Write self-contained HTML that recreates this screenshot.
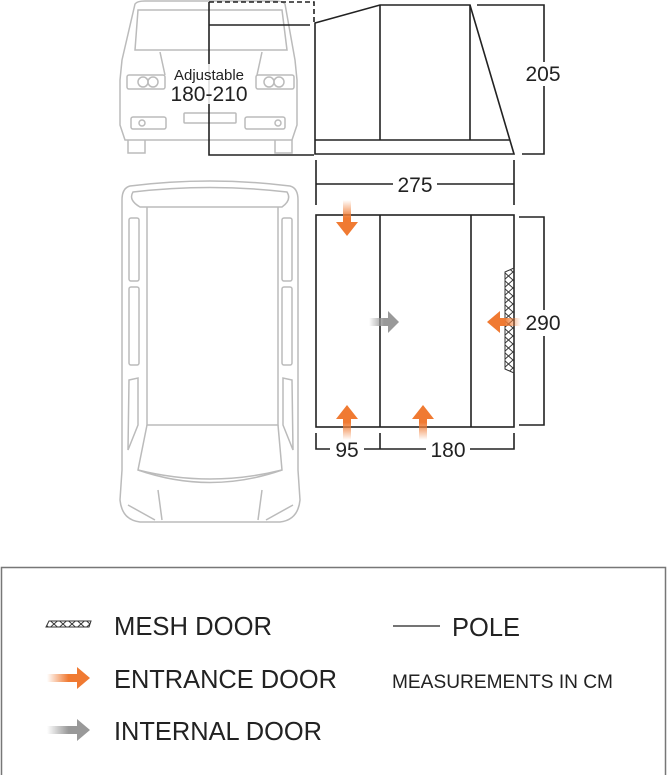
<!DOCTYPE html>
<html><head><meta charset="utf-8"><style>
html,body{margin:0;padding:0;background:#fff;}
svg{display:block;}
text{font-family:"Liberation Sans",sans-serif;fill:#222;}
</style></head><body>
<svg width="667" height="775" viewBox="0 0 667 775" xmlns="http://www.w3.org/2000/svg">
<defs>
<linearGradient id="od" x1="0" y1="0" x2="0" y2="1"><stop offset="0" stop-color="#f07a32" stop-opacity="0"/><stop offset="0.5" stop-color="#f07a32"/></linearGradient>
<linearGradient id="ou" x1="0" y1="1" x2="0" y2="0"><stop offset="0" stop-color="#f07a32" stop-opacity="0"/><stop offset="0.5" stop-color="#f07a32"/></linearGradient>
<linearGradient id="ol" x1="1" y1="0" x2="0" y2="0"><stop offset="0" stop-color="#f07a32" stop-opacity="0"/><stop offset="0.5" stop-color="#f07a32"/></linearGradient>
<linearGradient id="or" x1="0" y1="0" x2="1" y2="0"><stop offset="0" stop-color="#f07a32" stop-opacity="0"/><stop offset="0.5" stop-color="#f07a32"/></linearGradient>
<linearGradient id="gr" x1="0" y1="0" x2="1" y2="0"><stop offset="0" stop-color="#999" stop-opacity="0"/><stop offset="0.5" stop-color="#999"/></linearGradient>
<pattern id="mesh" width="9" height="8" patternUnits="userSpaceOnUse"><path d="M0 0L9 8M9 0L0 8" stroke="#333" stroke-width="1" fill="none"/></pattern>
</defs>

<!-- car front -->
<g fill="none" stroke="#bbb" stroke-width="1.5">
<path d="M135 4 Q137 1 145 1 L275 1 Q283 1 285 4 L295 60 L297 80 L297 125 L292 140 L125 140 L120 125 L120 80 L122 60 Z"/>
<path d="M138 10 L282 10 L287 50 L135 50 Z"/>
<path d="M160 52 L165 75 M262 52 L257 75"/>
<rect x="127" y="75" width="38" height="14" rx="2"/><circle cx="143" cy="82" r="5"/><circle cx="153" cy="82" r="5"/>
<rect x="256" y="75" width="38" height="14" rx="2"/><circle cx="269" cy="82" r="5"/><circle cx="279" cy="82" r="5"/>
<rect x="131" y="117" width="35" height="12" rx="2"/><circle cx="142" cy="123" r="3"/>
<rect x="245" y="117" width="40" height="12" rx="2"/><circle cx="278" cy="123" r="3"/>
<rect x="184" y="113" width="52" height="10" rx="1"/>
<path d="M128 140 L128 153 L145 153 L145 140 M275 140 L275 153 L292 153 L292 140"/>
</g>
<!-- car top -->
<g fill="none" stroke="#bbb" stroke-width="1.5">
<path d="M130 186 Q210 176 290 186 Q298 188 298 200 L298 470 L300 500 Q298 520 280 522 L140 522 Q122 520 120 500 L122 470 L122 200 Q122 188 130 186 Z"/>
<path d="M133 192 Q210 183 287 192 Q292 200 282 207 L140 207 Q128 200 133 192 Z"/>
<path d="M147 207 L147 425 L278 425 L278 207"/>
<path d="M147 425 L138 470 Q210 488 282 470 L278 425"/>
<path d="M138 470 Q210 495 282 470"/>
<rect x="129" y="218" width="10" height="63" rx="2"/><rect x="129" y="287" width="10" height="78" rx="2"/>
<path d="M129 380 L138 378 L138 425 L128 450 Z"/>
<rect x="282" y="218" width="10" height="63" rx="2"/><rect x="282" y="287" width="10" height="78" rx="2"/>
<path d="M292 380 L283 378 L283 425 L293 450 Z"/>
<path d="M158 490 L162 520 M262 490 L258 520 M128 505 L155 520 M293 505 L266 520"/>
</g>

<!-- side elevation -->
<g fill="none" stroke="#222" stroke-width="1.6">
<path d="M209 2 L314 2 L314 22" stroke-dasharray="5,3"/>
<path d="M209 2 L209 155 L314 155 M209 25 L310 25"/>
<path d="M315 23 L380 5 L470 5 L514 154 L315 154 Z"/>
<path d="M315 140 L510 140 M380 5 L380 140 M470 5 L470 140"/>
<path d="M477 5 L544 5 L544 154 L522 154"/>
<path d="M316 160 L316 205 M514 160 L514 205 M316 184 L514 184"/>
</g>
<rect x="172" y="64" width="78" height="40" fill="#fff" opacity="0.85"/>
<text x="209" y="80" font-size="15" text-anchor="middle">Adjustable</text>
<text x="209" y="101" font-size="21" text-anchor="middle">180-210</text>
<rect x="524" y="62" width="40" height="24" fill="#fff"/>
<text x="543" y="81" font-size="21" text-anchor="middle">205</text>
<rect x="393" y="173" width="44" height="24" fill="#fff"/>
<text x="415" y="192" font-size="21" text-anchor="middle">275</text>

<!-- floor plan -->
<g fill="none" stroke="#222" stroke-width="1.6">
<rect x="316" y="215" width="198" height="212"/>
<path d="M380 215 L380 427 M471 215 L471 427"/>
<path d="M519 217 L544 217 L544 425 L519 425"/>
<path d="M316 433 L316 449 L514 449 L514 433 M380 433 L380 449"/>
</g>
<path d="M514 268 L505 272 L505 369 L514 373 Z" fill="url(#mesh)" stroke="#333" stroke-width="1"/>
<rect x="523" y="310" width="42" height="26" fill="#fff"/>
<text x="543" y="330" font-size="21" text-anchor="middle">290</text>
<rect x="330" y="438" width="34" height="24" fill="#fff"/>
<text x="347" y="457" font-size="21" text-anchor="middle">95</text>
<rect x="426" y="438" width="44" height="24" fill="#fff"/>
<text x="448" y="457" font-size="21" text-anchor="middle">180</text>

<!-- arrows -->
<path d="M343 200 L351 200 L351 222 L358 222 L347 236 L336 222 L343 222 Z" fill="url(#od)"/>
<path d="M343 440 L351 440 L351 419 L358 419 L347 405 L336 419 L343 419 Z" fill="url(#ou)"/>
<path d="M419 440 L427 440 L427 419 L434 419 L423 405 L412 419 L419 419 Z" fill="url(#ou)"/>
<path d="M521 318 L521 326 L500 326 L500 333 L487 322 L500 311 L500 318 Z" fill="url(#ol)"/>
<path d="M369 318 L369 326 L388 326 L388 333 L399 322 L388 311 L388 318 Z" fill="url(#gr)"/>

<!-- legend -->
<rect x="1.5" y="567.5" width="664" height="220" fill="none" stroke="#777" stroke-width="1.5"/>
<path d="M49 621 L91 621 L89 627 L46 627 Z" fill="url(#mesh)" stroke="#333" stroke-width="1"/>
<text x="114" y="635" font-size="26" textLength="158" lengthAdjust="spacingAndGlyphs">MESH DOOR</text>
<path d="M47 674 L77 674 L77 667 L90 678 L77 689 L77 682 L47 682 Z" fill="url(#or)"/>
<text x="114" y="688" font-size="26" textLength="223" lengthAdjust="spacingAndGlyphs">ENTRANCE DOOR</text>
<path d="M47 726 L77 726 L77 719 L90 730 L77 741 L77 734 L47 734 Z" fill="url(#gr)"/>
<text x="114" y="740" font-size="26" textLength="208" lengthAdjust="spacingAndGlyphs">INTERNAL DOOR</text>
<path d="M393 626 L440 626" stroke="#222" stroke-width="1.3"/>
<text x="452" y="636" font-size="26" textLength="68" lengthAdjust="spacingAndGlyphs">POLE</text>
<text x="392" y="688" font-size="19" textLength="221" lengthAdjust="spacingAndGlyphs">MEASUREMENTS IN CM</text>
</svg>
</body></html>
